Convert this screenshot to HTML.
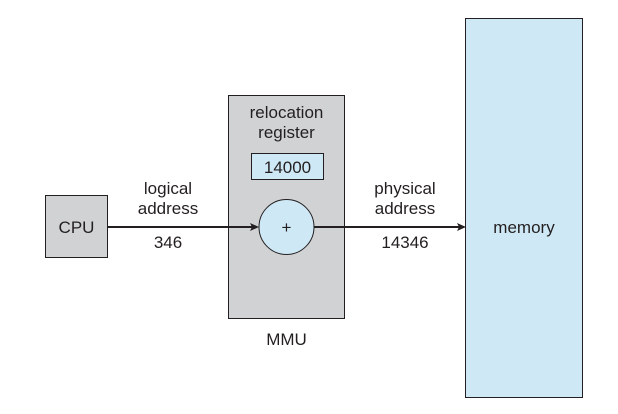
<!DOCTYPE html>
<html><head><style>body{margin:0;background:#fff}svg{display:block}text{font-family:"Liberation Sans",sans-serif;font-size:17px;fill:#231f20}</style></head>
<body>
<svg width="618" height="414" viewBox="0 0 618 414">
<rect x="45.5" y="195.5" width="62" height="62" fill="#d1d2d4" stroke="#231f20" stroke-width="1"/>
<text x="76.5" y="233" text-anchor="middle">CPU</text>
<rect x="228.5" y="95.5" width="116" height="223" fill="#d1d2d4" stroke="#231f20" stroke-width="1"/>
<text x="286.5" y="118" text-anchor="middle">relocation</text>
<text x="286.5" y="138" text-anchor="middle">register</text>
<rect x="251.5" y="153.5" width="72" height="26" fill="#cfe8f6" stroke="#231f20" stroke-width="1"/>
<text x="287.5" y="173" text-anchor="middle">14000</text>
<rect x="465.5" y="18.5" width="117" height="379" fill="#cfe8f6" stroke="#231f20" stroke-width="1"/>
<text x="524" y="233" text-anchor="middle">memory</text>
<line x1="108" y1="227" x2="252" y2="227" stroke="#231f20" stroke-width="2"/>
<polygon points="259,227 250,223 252,227 250,231" fill="#231f20"/>
<circle cx="286.5" cy="227" r="27.5" fill="#cfe8f6" stroke="#231f20" stroke-width="1"/>
<text x="286.5" y="233" text-anchor="middle">+</text>
<line x1="314" y1="227" x2="459" y2="227" stroke="#231f20" stroke-width="2"/>
<polygon points="466,227 457,223 459,227 457,231" fill="#231f20"/>
<text x="168" y="194" text-anchor="middle">logical</text>
<text x="168" y="214" text-anchor="middle">address</text>
<text x="168" y="248" text-anchor="middle">346</text>
<text x="405" y="194" text-anchor="middle">physical</text>
<text x="405" y="214" text-anchor="middle">address</text>
<text x="405" y="248" text-anchor="middle">14346</text>
<text x="286.5" y="345" text-anchor="middle">MMU</text>
</svg>
</body></html>
